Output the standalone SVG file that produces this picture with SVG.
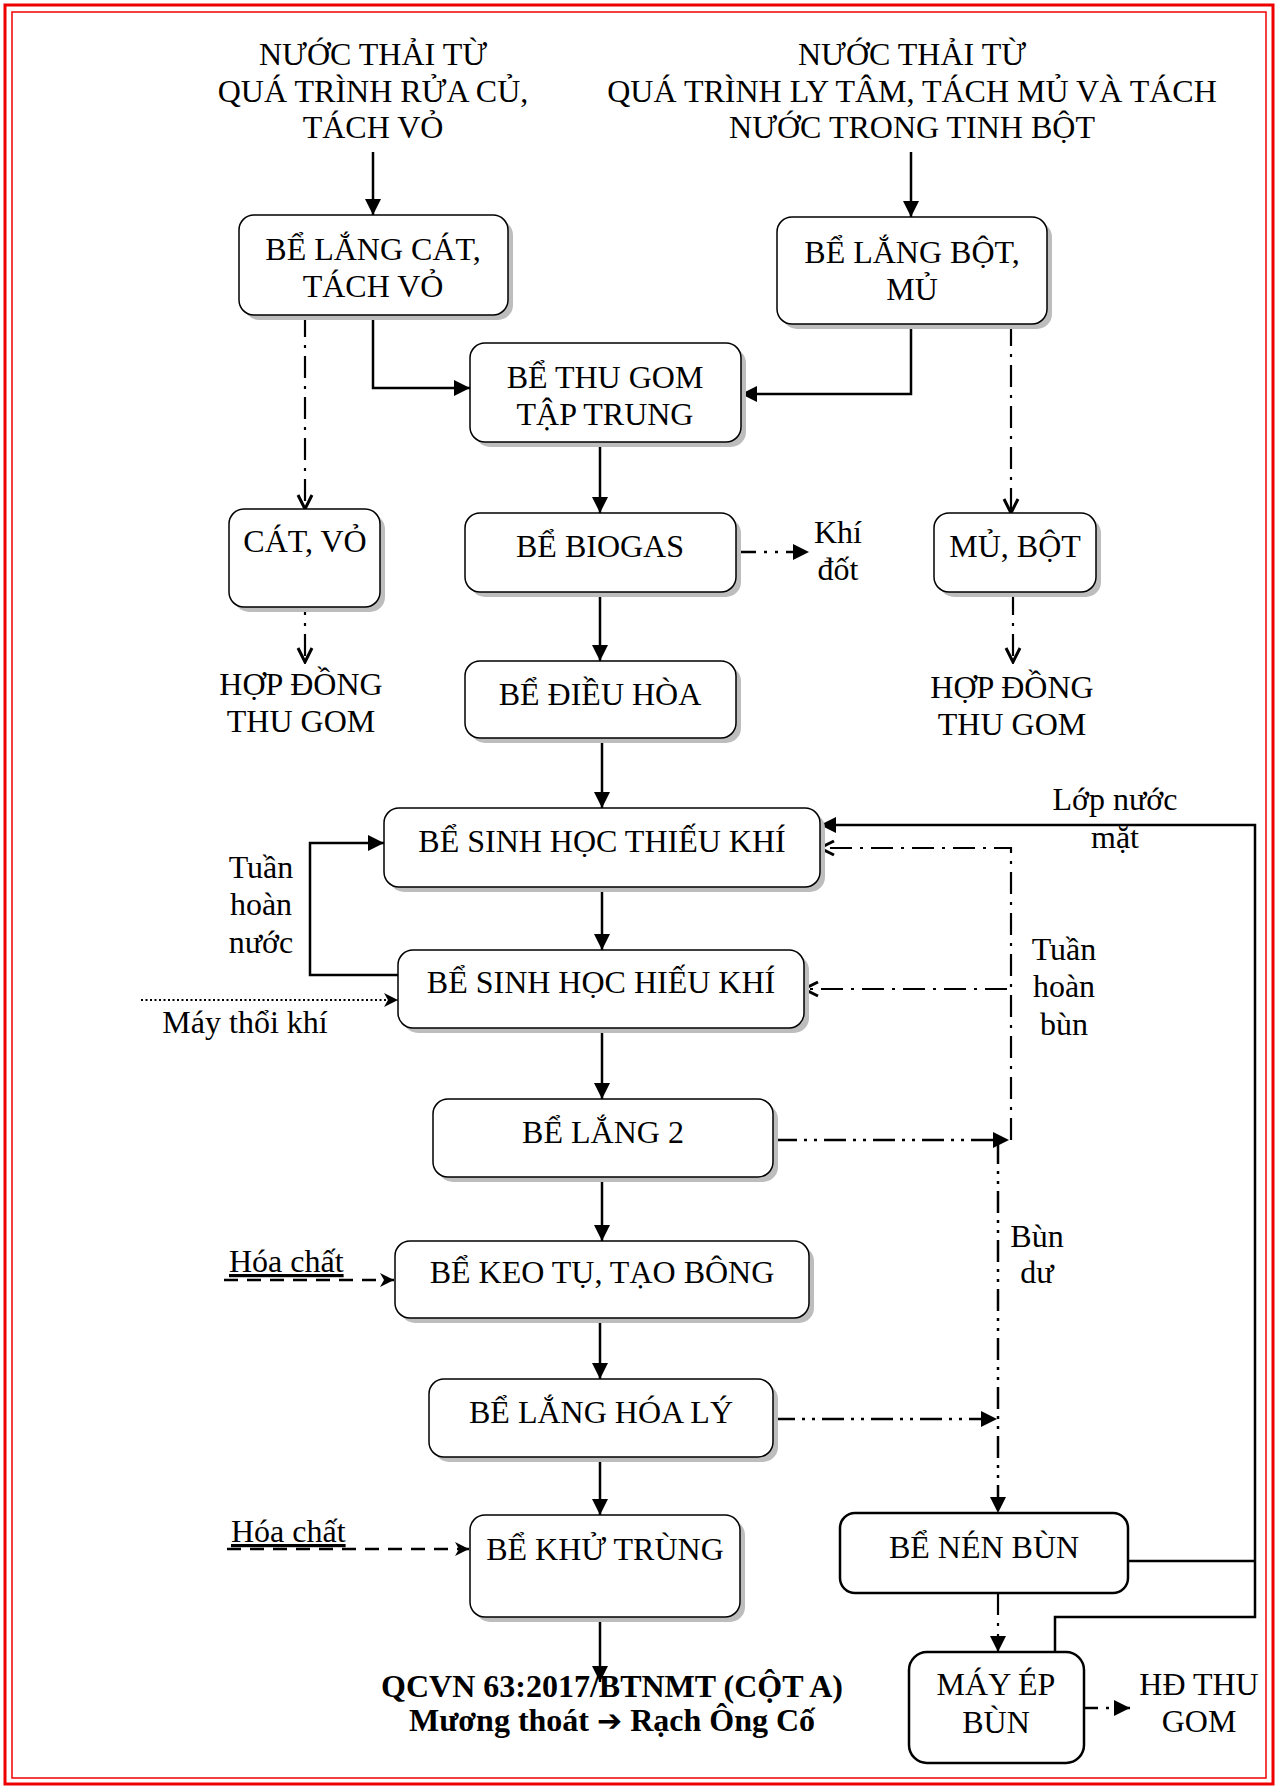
<svg xmlns="http://www.w3.org/2000/svg" width="1279" height="1788" viewBox="0 0 1279 1788">
<style>
.t{font-family:"Liberation Serif","Times New Roman",serif;font-size:32px;fill:#000;text-anchor:middle}
.ts{font-family:"Liberation Serif","Times New Roman",serif;font-size:32px;fill:#000}
.tb{font-family:"Liberation Serif","Times New Roman",serif;font-size:32px;font-weight:bold;fill:#000;text-anchor:middle}
.ar{font-family:"DejaVu Sans",sans-serif;font-weight:bold;font-size:30px}
.box{fill:#fff;stroke:#000;stroke-width:1.5}
.box2{fill:#fff;stroke:#000;stroke-width:2.5}
.sh{fill:#bdbdbd}
.c{fill:none;stroke:#000;stroke-width:2.5}
.dd{fill:none;stroke:#000;stroke-width:2.2;stroke-dasharray:22 8 3 8}
.ddd{fill:none;stroke:#000;stroke-width:2.5;stroke-dasharray:22 7 3 7 3 7}
.ds{fill:none;stroke:#000;stroke-width:2.5;stroke-dasharray:14 9}
.dt{fill:none;stroke:#000;stroke-width:2;stroke-dasharray:2 2.5}
</style>
<defs>
<marker id="tri" markerUnits="userSpaceOnUse" markerWidth="16" markerHeight="16" viewBox="0 0 16 16" refX="16" refY="8" orient="auto">
<path d="M0,0 L16,8 L0,16 z" fill="#000"/>
</marker>
<marker id="vee" markerUnits="userSpaceOnUse" markerWidth="18" markerHeight="18" viewBox="0 0 18 18" refX="16" refY="9" orient="auto">
<path d="M2,2 L16,9 L2,16" fill="none" stroke="#000" stroke-width="3"/>
</marker>
<marker id="veef" markerUnits="userSpaceOnUse" markerWidth="16" markerHeight="16" viewBox="0 0 16 16" refX="15" refY="8" orient="auto">
<path d="M1,1 L15,8 L1,15 L5,8 z" fill="#000"/>
</marker>
</defs>

<g id="border">
<rect x="5" y="5" width="1268" height="1779" fill="none" stroke="#e00" stroke-width="3"/>
<rect x="12" y="12" width="1254" height="1766" fill="none" stroke="#e00" stroke-width="1.5"/>
</g>

<g id="src-left">
<text class="t" x="373" y="65">NƯỚC THẢI TỪ</text>
<text class="t" x="373" y="102">QUÁ TRÌNH RỬA CỦ,</text>
<text class="t" x="373" y="138">TÁCH VỎ</text>
</g>
<g id="src-right">
<text class="t" x="912" y="65">NƯỚC THẢI TỪ</text>
<text class="t" x="912" y="102">QUÁ TRÌNH LY TÂM, TÁCH MỦ VÀ TÁCH</text>
<text class="t" x="912" y="138">NƯỚC TRONG TINH BỘT</text>
</g>

<g id="connectors">
<path class="c" d="M373,152 V215" marker-end="url(#tri)"/>
<path class="c" d="M911,152 V217" marker-end="url(#tri)"/>
<path class="c" d="M373,315 V388 H470" marker-end="url(#tri)"/>
<path class="c" d="M911,324 V394 H741" marker-end="url(#tri)"/>
<path class="c" d="M600,442 V513" marker-end="url(#tri)"/>
<path class="c" d="M600,592 V661" marker-end="url(#tri)"/>
<path class="c" d="M602,738 V808" marker-end="url(#tri)"/>
<path class="c" d="M602,887 V950" marker-end="url(#tri)"/>
<path class="c" d="M602,1028 V1099" marker-end="url(#tri)"/>
<path class="c" d="M602,1177 V1241" marker-end="url(#tri)"/>
<path class="c" d="M600,1318 V1379" marker-end="url(#tri)"/>
<path class="c" d="M600,1457 V1515" marker-end="url(#tri)"/>
<path class="c" d="M600,1617 V1682" marker-end="url(#tri)"/>
<path class="c" d="M398,975 H310 V843 H384" marker-end="url(#tri)"/>
<path class="dt" d="M141,1000 H398" marker-end="url(#veef)"/>
<path class="dd" d="M305,315 V509" marker-end="url(#vee)"/>
<path class="dd" d="M305,593 V662" marker-end="url(#vee)"/>
<path class="dd" d="M1011,324 V513" marker-end="url(#vee)"/>
<path class="dd" d="M1013,593 V662" marker-end="url(#vee)"/>
<path class="c" d="M740,552 H809" stroke-dasharray="16 8 3 8 3 8" marker-end="url(#tri)"/>
<path class="c" d="M1055,1652 V1617 H1255 V825 H820" marker-end="url(#tri)"/>
<path class="c" d="M1128,1561 H1255"/>
<path class="ddd" d="M775,1140 H1009" marker-end="url(#tri)"/>
<path class="dd" d="M1011,1140 V848 H820" marker-end="url(#vee)"/>
<path class="dd" d="M1007,989 H804" marker-end="url(#vee)"/>
<path class="ddd" d="M998,1142 V1513" stroke-width="2" marker-end="url(#tri)"/>
<path class="ddd" d="M773,1419 H997" marker-end="url(#tri)"/>
<path class="dd" d="M998,1593 V1652" marker-end="url(#tri)"/>
<path class="c" d="M1084,1708 H1130" stroke-dasharray="14 8 3 8" marker-end="url(#tri)"/>
<path class="ds" d="M224,1280 H394" marker-end="url(#veef)"/>
<path class="ds" d="M227,1549 H469" marker-end="url(#veef)"/>
</g>

<g id="n-lang-cat">
<rect class="sh" x="244" y="220" width="269" height="100" rx="15"/>
<rect class="box" x="239" y="215" width="269" height="100" rx="15"/>
<text class="t" x="373" y="260">BỂ LẮNG CÁT,</text>
<text class="t" x="373" y="297">TÁCH VỎ</text>
</g>
<g id="n-lang-bot">
<rect class="sh" x="782" y="222" width="270" height="107" rx="15"/>
<rect class="box" x="777" y="217" width="270" height="107" rx="15"/>
<text class="t" x="912" y="263">BỂ LẮNG BỘT,</text>
<text class="t" x="912" y="300">MỦ</text>
</g>
<g id="n-thu-gom">
<rect class="sh" x="475" y="348" width="271" height="99" rx="15"/>
<rect class="box" x="470" y="343" width="271" height="99" rx="15"/>
<text class="t" x="605" y="388">BỂ THU GOM</text>
<text class="t" x="605" y="425">TẬP TRUNG</text>
</g>
<g id="n-cat-vo">
<rect class="sh" x="234" y="514" width="151" height="98" rx="15"/>
<rect class="box" x="229" y="509" width="151" height="98" rx="15"/>
<text class="t" x="305" y="552">CÁT, VỎ</text>
</g>
<g id="n-biogas">
<rect class="sh" x="470" y="518" width="271" height="79" rx="15"/>
<rect class="box" x="465" y="513" width="271" height="79" rx="15"/>
<text class="t" x="600" y="557">BỂ BIOGAS</text>
</g>
<g id="n-mu-bot">
<rect class="sh" x="939" y="518" width="162" height="79" rx="15"/>
<rect class="box" x="934" y="513" width="162" height="79" rx="15"/>
<text class="t" x="1015" y="557">MỦ, BỘT</text>
</g>
<g id="n-dieu-hoa">
<rect class="sh" x="470" y="666" width="271" height="77" rx="15"/>
<rect class="box" x="465" y="661" width="271" height="77" rx="15"/>
<text class="t" x="600" y="705">BỂ ĐIỀU HÒA</text>
</g>
<g id="n-thieu-khi">
<rect class="sh" x="389" y="813" width="436" height="79" rx="15"/>
<rect class="box" x="384" y="808" width="436" height="79" rx="15"/>
<text class="t" x="602" y="852">BỂ SINH HỌC THIẾU KHÍ</text>
</g>
<g id="n-hieu-khi">
<rect class="sh" x="403" y="955" width="406" height="78" rx="15"/>
<rect class="box" x="398" y="950" width="406" height="78" rx="15"/>
<text class="t" x="601" y="993">BỂ SINH HỌC HIẾU KHÍ</text>
</g>
<g id="n-lang-2">
<rect class="sh" x="438" y="1104" width="340" height="78" rx="15"/>
<rect class="box" x="433" y="1099" width="340" height="78" rx="15"/>
<text class="t" x="603" y="1143">BỂ LẮNG 2</text>
</g>
<g id="n-keo-tu">
<rect class="sh" x="400" y="1246" width="414" height="77" rx="15"/>
<rect class="box" x="395" y="1241" width="414" height="77" rx="15"/>
<text class="t" x="602" y="1283">BỂ KEO TỤ, TẠO BÔNG</text>
</g>
<g id="n-lang-hoa-ly">
<rect class="sh" x="434" y="1384" width="344" height="78" rx="15"/>
<rect class="box" x="429" y="1379" width="344" height="78" rx="15"/>
<text class="t" x="601" y="1423">BỂ LẮNG HÓA LÝ</text>
</g>
<g id="n-khu-trung">
<rect class="sh" x="475" y="1520" width="270" height="102" rx="15"/>
<rect class="box" x="470" y="1515" width="270" height="102" rx="15"/>
<text class="t" x="605" y="1560">BỂ KHỬ TRÙNG</text>
</g>
<g id="n-nen-bun">
<rect class="box2" x="840" y="1513" width="288" height="80" rx="15"/>
<text class="t" x="984" y="1558">BỂ NÉN BÙN</text>
</g>
<g id="n-may-ep">
<rect class="box2" x="909" y="1652" width="175" height="111" rx="18"/>
<text class="t" x="996" y="1695">MÁY ÉP</text>
<text class="t" x="996" y="1733">BÙN</text>
</g>

<g id="labels">
<text class="t" x="301" y="695">HỢP ĐỒNG</text>
<text class="t" x="301" y="732">THU GOM</text>
<text class="t" x="1012" y="698">HỢP ĐỒNG</text>
<text class="t" x="1012" y="735">THU GOM</text>
<text class="t" x="838" y="543">Khí</text>
<text class="t" x="838" y="580">đốt</text>
<text class="t" x="261" y="878">Tuần</text>
<text class="t" x="261" y="915">hoàn</text>
<text class="t" x="261" y="953">nước</text>
<text class="t" x="245" y="1033">Máy thổi khí</text>
<text class="t" x="1115" y="810">Lớp nước</text>
<text class="t" x="1115" y="848">mặt</text>
<text class="t" x="1064" y="960">Tuần</text>
<text class="t" x="1064" y="997">hoàn</text>
<text class="t" x="1064" y="1035">bùn</text>
<text class="t" x="1037" y="1247">Bùn</text>
<text class="t" x="1037" y="1283">dư</text>
<text class="ts" x="229" y="1272" text-decoration="underline">Hóa chất</text>
<text class="ts" x="231" y="1542" text-decoration="underline">Hóa chất</text>
<text class="t" x="1199" y="1695">HĐ THU</text>
<text class="t" x="1199" y="1732">GOM</text>
</g>
<g id="outlet">
<text class="tb" x="612" y="1697">QCVN 63:2017/BTNMT (CỘT A)</text>
<text class="tb" x="612" y="1731">Mương thoát <tspan class="ar">➔</tspan> Rạch Ông Cố</text>
</g>
</svg>
